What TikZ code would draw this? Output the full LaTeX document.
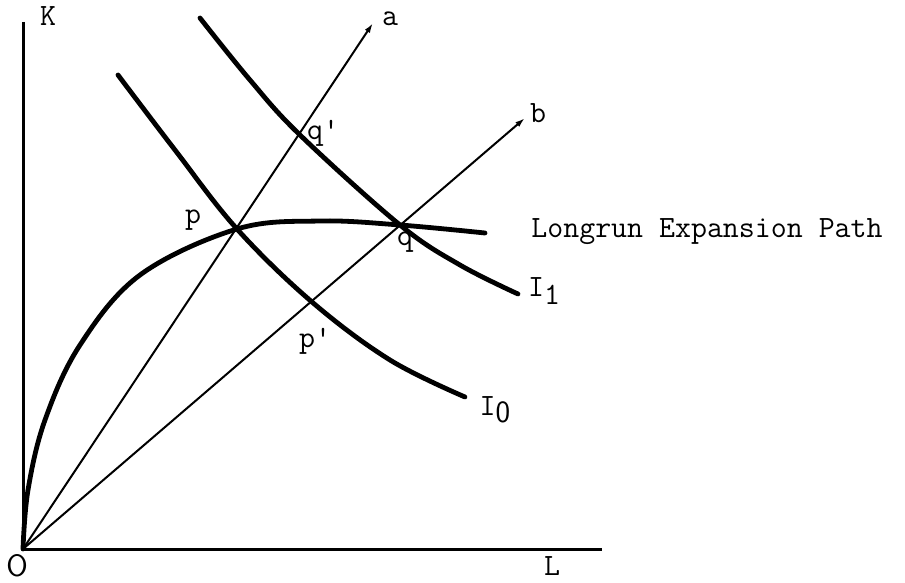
\documentclass[tikz,border=0pt]{standalone}
\usepackage{fontspec}
\usepackage{tikz}
\usetikzlibrary{positioning,arrows.meta,calc}

\begin{document}
\begin{tikzpicture}[
        x=0.5pt, y=-0.5pt,
        font=\ttfamily\fontsize{15.5}{18}\selectfont,
        axis/.style={line width=1.5pt, draw=black},
        ray/.style={-{Latex[length=5pt, width=3pt]}, line width=1pt, draw=black},
        curve/.style={line width=2.4pt, line cap=round, line join=round, draw=black},
        lbl/.style={inner sep=0pt}
    ]
    \useasboundingbox (0,0) rectangle (905,583);

    % Step 1: axes
    \coordinate (origin) at (23,549);
    \coordinate (ktop) at (23,22);
    \coordinate (lend) at (602,549);
    \draw[axis] (ktop) -- (origin) -- (lend);
    \node[lbl] (klabel) at (48,16) {K};
    \node[lbl, font=\sffamily\fontsize{15.5}{18}\selectfont] (olabel) at (17,566) {O};
    \node[lbl] (llabel) at (552,566) {L};

    % Step 2: rays a and b through the origin
    \coordinate (atip) at (373,23);
    \coordinate (btip) at (525,118);
    \draw[ray] (origin) -- (atip);
    \draw[ray] (origin) -- (btip);
    \node[lbl] (alabel) at (390,19) {a};
    \node[lbl] (blabel) at (538,113) {b};

    % Step 3: intersection points
    \coordinate (p) at (237,229);
    \coordinate (q) at (400,225);
    \coordinate (pp) at (312,302);
    \coordinate (qq) at (300,135);

    % Step 4: isoquants
    \draw[curve] plot[smooth, tension=0.6] coordinates {
        (118,75) (175,150) (p) (pp) (390,360) (465,397)};
    \draw[curve] plot[smooth, tension=0.6] coordinates {
        (200,18) (250,80) (qq) (q) (460,265) (518,294)};
    \node[lbl] (izero) at (495,410) {I\raisebox{-0.55ex}{\sffamily 0}};
    \node[lbl] (ione) at (544,291) {I\raisebox{-0.55ex}{1}};

    % Step 5: expansion path
    \draw[curve] plot[smooth, tension=0.6] coordinates {
        (origin) (28,490) (45,420) (80,345) (140,275) (p) (320,221) (q) (485,233)};
    \node[lbl, anchor=west] (pathlabel) at (531,232) {Longrun Expansion Path};

    % Step 6: point labels
    \node[lbl] (plabel) at (193,220) {p};
    \node[lbl] (qlabel) at (405,242) {q};
    \node[lbl] (pplabel) at (315,341) {p'};
    \node[lbl] (qqlabel) at (323,133) {q'};

\end{tikzpicture}
\end{document}
